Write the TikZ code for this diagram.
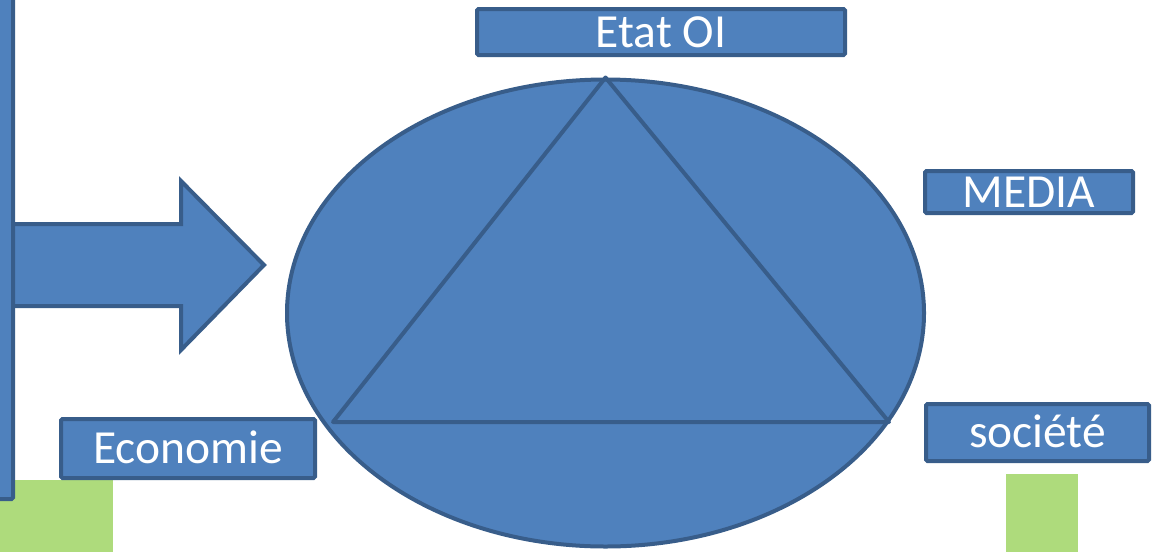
\documentclass[tikz,border=0pt]{standalone}
\usepackage{fontspec}
\setmainfont{Carlito}
\usetikzlibrary{shapes.geometric}
\definecolor{fillblue}{HTML}{4F81BD}
\definecolor{edgeblue}{HTML}{385D8A}
\definecolor{lightgreen}{HTML}{AEDB7C}
\tikzset{
  bluebox/.style={draw=edgeblue, fill=fillblue, line width=4pt, rounded corners=1.5pt,
    inner sep=0pt, text=white, text height=30.5pt, text depth=0pt,
    font=\fontsize{47.5}{57}\selectfont},
  blueshape/.style={draw=edgeblue, fill=fillblue, line width=4pt},
  greensq/.style={fill=lightgreen, draw=none}
}
\begin{document}
\begin{tikzpicture}[x=1pt,y=-1pt]
\useasboundingbox (0,0) rectangle (1153,552);
% green squares
\fill[lightgreen] (0,480) rectangle (113,552);
\fill[lightgreen] (1006,474) rectangle (1078,552);
% big arrow
\draw[blueshape, line join=miter] (8,224) -- (181,224) -- (181,181) -- (264,265) -- (181,350) -- (181,306) -- (8,306) -- cycle;
% left tall bar
\draw[blueshape, rounded corners=1.5pt] (-10,-10) rectangle (13,499);
% ellipse and triangle
\node[ellipse, blueshape, minimum width=637pt, minimum height=467pt, inner sep=0pt] (ell) at (605.5,313) {};
\coordinate (apex) at (ell.north);
\coordinate (bl) at (333,422);
\coordinate (br) at (889,422);
\draw[edgeblue, line width=4pt, line join=round] (apex) -- (bl) -- (br) -- cycle;
% label boxes
\node[bluebox, minimum width=368pt, minimum height=46pt] (etat) at (661,32) {Etat OI};
\node[bluebox, minimum width=208pt, minimum height=42pt] (media) at (1029,192) {MEDIA};
\node[bluebox, minimum width=223pt, minimum height=57pt] (societe) at (1037.5,432.5) {société};
\node[bluebox, minimum width=254pt, minimum height=59pt] (eco) at (188,448.5) {Economie};
\end{tikzpicture}
\end{document}
